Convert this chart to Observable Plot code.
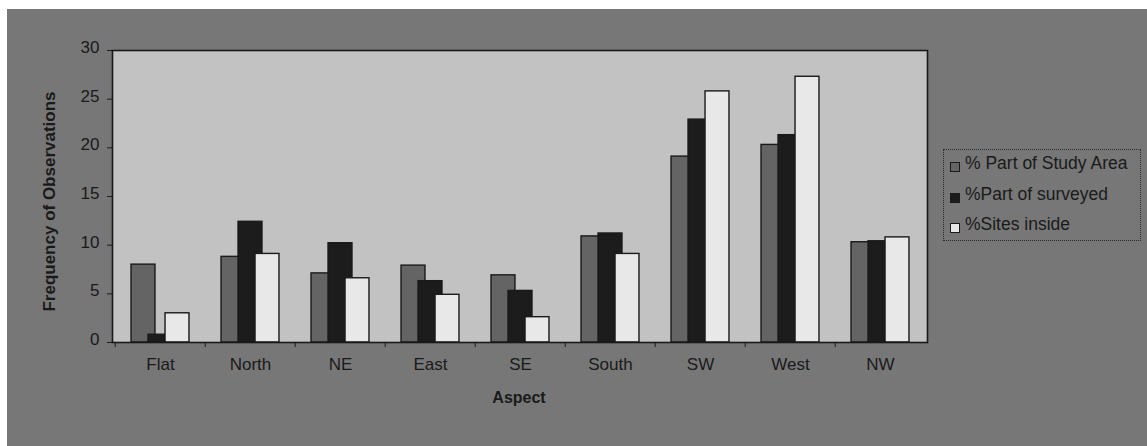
<!DOCTYPE html>
<html>
<head>
<meta charset="utf-8">
<script src="https://cdn.jsdelivr.net/npm/d3@7"></script>
<script src="https://cdn.jsdelivr.net/npm/@observablehq/plot@0.6"></script>
<style>
  html, body { margin: 0; padding: 0; background: #ffffff; }
  #wrap { position: relative; width: 1147px; height: 446px; overflow: hidden; font-family: "Liberation Sans", Arial, sans-serif; }
  #bg { position: absolute; left: 7px; top: 9px; right: 0; bottom: 0; background: #777777; }
  #chart { position: absolute; left: 0; top: 0; }
  #legend { position: absolute; left: 943px; top: 149px; width: 198px; height: 92px; border: 1px dotted #2a2a2a; box-sizing: border-box; font-size: 17.5px; color: #1a1a1a; }
  .row { position: absolute; left: 6px; height: 20px; display: flex; align-items: center; white-space: nowrap; }
  .sw { width: 10px; height: 10px; border: 1.5px solid #1a1a1a; margin-right: 5px; margin-top: 7px; box-sizing: border-box; flex: none; }
</style>
</head>
<body>
<div id="wrap">
  <div id="bg"></div>
  <div id="chart"></div>
  <div id="legend"></div>
</div>
<script>
const categories = ["Flat", "North", "NE", "East", "SE", "South", "SW", "West", "NW"];
const studyArea   = [8.0, 8.8, 7.1, 7.9, 6.9, 10.9, 19.1, 20.3, 10.3];
const surveyed    = [0.8, 12.4, 10.2, 6.3, 5.3, 11.2, 22.9, 21.3, 10.4];
const sitesInside = [3.0, 9.1, 6.6, 4.9, 2.6, 9.1, 25.8, 27.3, 10.8];
const seriesNames = ["% Part of Study Area", "%Part of surveyed", "%Sites inside"];
const seriesColors = ["#646464", "#1c1c1c", "#e8e8e8"];
const yTicks = [0, 5, 10, 15, 20, 25, 30];

const seriesValues = [studyArea, surveyed, sitesInside];
const tables = seriesValues.map((vals, s) =>
  categories.map((c, i) => ({category: c, value: vals[i], series: seriesNames[s]})));

const W = 1147, H = 446;
const mL = 112, mR = 220, mT = 50, mB = 104;
const band = (W - mL - mR) / categories.length;
const barW = 24.5;
const inset = (band - barW) / 2;
const step = 17;
const font = "'Liberation Sans', Arial, sans-serif";

const barMarks = tables.map((t, s) =>
  Plot.barY(t, {
    x: "category", y: "value",
    fill: seriesColors[s], stroke: "#1a1a1a", strokeWidth: 1.4,
    insetLeft: inset, insetRight: inset, dx: (s - 1) * step
  }));

const chart = Plot.plot({
  width: W, height: H,
  marginLeft: mL, marginRight: mR, marginTop: mT, marginBottom: mB,
  style: {background: "transparent", fontFamily: font, color: "#1a1a1a"},
  x: {domain: categories, padding: 0, label: null},
  y: {domain: [0, 30], label: null},
  marks: [
    Plot.frame({fill: "#c2c2c2"}),
    ...barMarks,
    Plot.frame({stroke: "#1a1a1a", strokeWidth: 1.6}),
    Plot.axisY({ticks: yTicks, tickSize: 5, text: null, stroke: "#1a1a1a"}),
    Plot.axisY({ticks: yTicks, tickSize: 0, tickPadding: 13, dy: -3, fontSize: 17, fill: "#1a1a1a", label: null}),
    Plot.axisX({tickSize: 5, text: null, dx: -band / 2, stroke: "#1a1a1a", label: null}),
    Plot.axisX({tickSize: 0, tickPadding: 15, fontSize: 17, fill: "#1a1a1a", label: null}),
    Plot.text(["Frequency of Observations"], {frameAnchor: "left", textAnchor: "middle", dx: -63, dy: 5, rotate: -90, fontWeight: "bold", fontSize: 17, fill: "#1a1a1a"}),
    Plot.text(["Aspect"], {frameAnchor: "bottom", dx: -1, dy: 60, fontWeight: "bold", fontSize: 16, fill: "#1a1a1a", letterSpacing: "1px"})
  ]
});
document.getElementById("chart").appendChild(chart);

const legend = document.getElementById("legend");
const rowTops = [3, 34, 64];
seriesNames.forEach((name, i) => {
  const row = document.createElement("div");
  row.className = "row";
  row.style.top = rowTops[i] + "px";
  const sw = document.createElement("span");
  sw.className = "sw";
  sw.style.background = seriesColors[i];
  const label = document.createElement("span");
  label.textContent = name;
  row.appendChild(sw);
  row.appendChild(label);
  legend.appendChild(row);
});
</script>
</body>
</html>
